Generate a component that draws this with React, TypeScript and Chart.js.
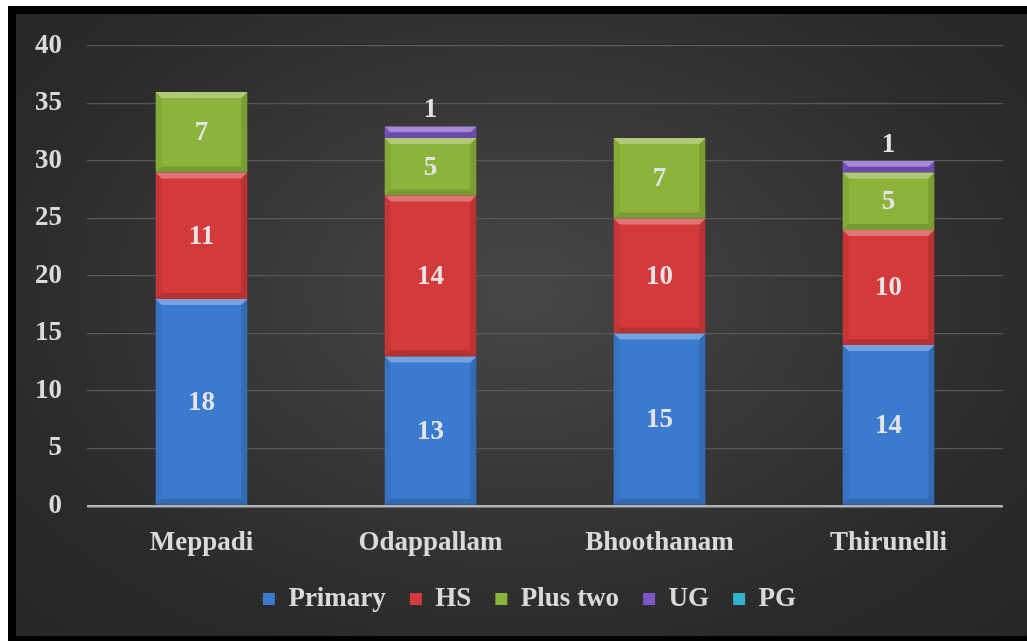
import React, { useEffect, useRef } from "react";
import { Chart, registerables } from "chart.js";

Chart.register(...registerables);

const categories = ["Meppadi", "Odappallam", "Bhoothanam", "Thirunelli"];
const primary = [18, 13, 15, 14];
const hs = [11, 14, 10, 10];
const plusTwo = [7, 5, 7, 5];
const ug = [0, 1, 0, 1];
const pg = [0, 0, 0, 0];
const seriesNames = ["Primary", "HS", "Plus two", "UG", "PG"];
const seriesColors = ["#3b7bcf", "#d43a3a", "#8cb43b", "#7c56c6", "#31b4cb"];

const FONT = "'Liberation Serif', 'Times New Roman', serif";
const TEXT = "#dadada";
const FS = 27;

const bevelPlugin = {
  id: "bevel",
  afterDatasetsDraw(chart: any) {
    const ctx = chart.ctx;
    chart.data.datasets.forEach((ds: any, di: number) => {
      const meta = chart.getDatasetMeta(di);
      meta.data.forEach((bar: any, i: number) => {
        const v = ds.data[i];
        if (!v) return;
        const p = bar.getProps(["x", "y", "base", "width"], true);
        const x0 = p.x - p.width / 2;
        const x1 = p.x + p.width / 2;
        const y0 = Math.min(p.y, p.base);
        const y1 = Math.max(p.y, p.base);
        const h = y1 - y0;
        const b = Math.min(6, h / 2);
        ctx.save();
        const poly = (pts: number[][], fill: string) => {
          ctx.beginPath();
          ctx.moveTo(pts[0][0], pts[0][1]);
          for (let k = 1; k < pts.length; k++) ctx.lineTo(pts[k][0], pts[k][1]);
          ctx.closePath();
          ctx.fillStyle = fill;
          ctx.fill();
        };
        poly([[x0, y0], [x1, y0], [x1 - b, y0 + b], [x0 + b, y0 + b]], "rgba(255,255,255,0.3)");
        poly([[x0, y0], [x0 + b, y0 + b], [x0 + b, y1 - b], [x0, y1]], "rgba(0,0,0,0.06)");
        poly([[x1, y0], [x1 - b, y0 + b], [x1 - b, y1 - b], [x1, y1]], "rgba(0,0,0,0.12)");
        poly([[x0, y1], [x0 + b, y1 - b], [x1 - b, y1 - b], [x1, y1]], "rgba(0,0,0,0.14)");
        ctx.restore();
      });
    });
  },
};

const labelPlugin = {
  id: "valueLabels",
  afterDatasetsDraw(chart: any) {
    const ctx = chart.ctx;
    ctx.save();
    ctx.font = `bold ${FS}px ${FONT}`;
    ctx.fillStyle = "#e4e4e4";
    ctx.textAlign = "center";
    ctx.textBaseline = "middle";
    chart.data.datasets.forEach((ds: any, di: number) => {
      const meta = chart.getDatasetMeta(di);
      meta.data.forEach((bar: any, i: number) => {
        const v = ds.data[i];
        if (!v) return;
        const p = bar.getProps(["x", "y", "base"], true);
        const h = Math.abs(p.base - p.y);
        if (h < 20) {
          ctx.fillText(String(v), p.x, Math.min(p.y, p.base) - 16);
        } else {
          ctx.fillText(String(v), p.x, (p.y + p.base) / 2 + 1);
        }
      });
    });
    ctx.restore();
  },
};

const legendShift = {
  id: "legendShift",
  afterLayout(chart: any) {
    const lg = chart.legend;
    if (!lg) return;
    const dy = 547.5 - lg.top;
    lg.top += dy;
    lg.bottom += dy;
    lg.left += 20;
    lg.right += 20;
  },
};

export default function App() {
  const ref = useRef<HTMLCanvasElement>(null);
  useEffect(() => {
    document.body.style.margin = "0";
    const values = [primary, hs, plusTwo, ug, pg];
    const chart = new Chart(ref.current!, {
      type: "bar",
      data: {
        labels: categories,
        datasets: values.map((d, k) => ({
          label: seriesNames[k],
          data: d,
          backgroundColor: seriesColors[k],
          borderWidth: 0,
          categoryPercentage: 1,
          barPercentage: 0.4,
        })),
      },
      options: {
        responsive: false,
        animation: false,
        layout: { padding: { left: 0, right: 24, top: 32, bottom: 15.5 } },
        scales: {
          x: {
            stacked: true,
            grid: { display: false },
            border: { display: false },
            ticks: { color: TEXT, font: { family: FONT, size: FS, weight: "bold" }, padding: 13 },
            afterFit: (s: any) => {
              s.height = 53.5;
            },
          },
          y: {
            stacked: true,
            min: 0,
            max: 40,
            border: { display: false },
            grid: {
              drawTicks: false,
              color: (c: any) => (c.tick && c.tick.value === 0 ? "#b4b4b4" : "#575757"),
              lineWidth: (c: any) => (c.tick && c.tick.value === 0 ? 2.5 : 1.2),
            },
            ticks: { stepSize: 5, color: TEXT, padding: 25, font: { family: FONT, size: FS, weight: "bold" } },
            afterFit: (s: any) => {
              s.width = 71;
              s.paddingTop = 0;
              s.paddingBottom = 0;
            },
          },
        },
        plugins: {
          legend: {
            position: "bottom",
            labels: {
              color: TEXT,
              font: { family: FONT, size: FS, weight: "bold" },
              boxWidth: 12,
              boxHeight: 12,
              padding: 24,
            },
          },
          tooltip: { enabled: false },
        },
      },
      plugins: [bevelPlugin, labelPlugin, legendShift],
    });
    return () => chart.destroy();
  }, []);

  return (
    <div style={{ position: "relative", width: 1027, height: 641, background: "#ffffff", overflow: "hidden" }}>
      <div
        style={{
          position: "absolute",
          left: 8,
          top: 6,
          width: 1019,
          height: 635,
          background: "#000",
        }}
      />
      <div
        style={{
          position: "absolute",
          left: 16,
          top: 14,
          width: 1011,
          height: 622,
          background: "radial-gradient(ellipse at 50% 45%, #474747 0%, #393939 35%, #2a2a2a 75%, #262626 100%)",
        }}
      >
        <canvas ref={ref} width={1011} height={622} style={{ display: "block" }} />
      </div>
    </div>
  );
}
